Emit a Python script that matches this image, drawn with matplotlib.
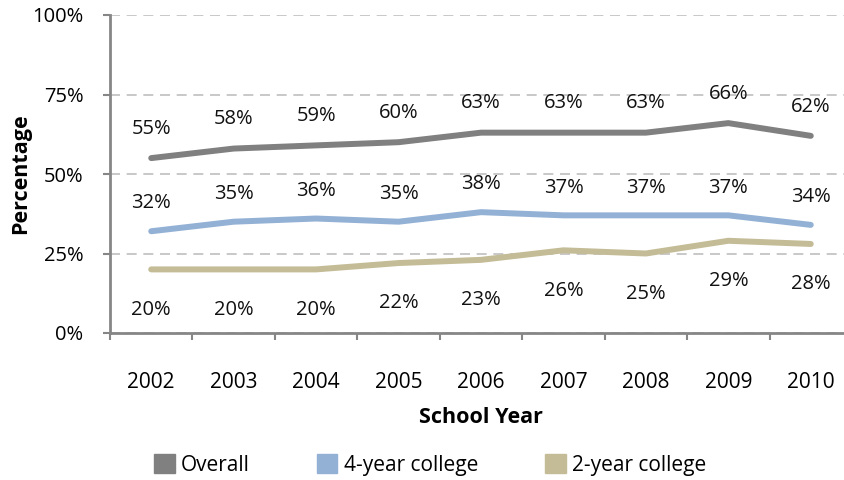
import matplotlib
matplotlib.use("Agg")
import matplotlib.pyplot as plt
from matplotlib.patches import Patch

years = ["2002", "2003", "2004", "2005", "2006", "2007", "2008", "2009", "2010"]
overall = [55, 58, 59, 60, 63, 63, 63, 66, 62]
four_year = [32, 35, 36, 35, 38, 37, 37, 37, 34]
two_year = [20, 20, 20, 22, 23, 26, 25, 29, 28]
yticks = [0, 25, 50, 75, 100]
ytick_labels = ["0%", "25%", "50%", "75%", "100%"]

plt.rcParams['font.family'] = ['Open Sans', 'DejaVu Sans']

W, H = 844, 480
fig = plt.figure(figsize=(W/100, H/100), dpi=100)
ax = fig.add_axes([110/W, 147/H, 742/W, 318/H])

c_over = "#808080"
c_four = "#93B1D5"
c_two = "#C4BC96"

x = list(range(len(years)))
ax.plot(x, overall, color=c_over, lw=4.3, solid_capstyle='round', zorder=3)
ax.plot(x, four_year, color=c_four, lw=4.3, solid_capstyle='round', zorder=3)
ax.plot(x, two_year, color=c_two, lw=4.3, solid_capstyle='round', zorder=3)

fs = 14.5
for xi, v in zip(x, overall):
    ax.annotate(f"{v}%", (xi, v), xytext=(0, 21), textcoords='offset points',
                ha='center', va='center', fontsize=fs, color='#111111')
for xi, v in zip(x, four_year):
    ax.annotate(f"{v}%", (xi, v), xytext=(0, 20), textcoords='offset points',
                ha='center', va='center', fontsize=fs, color='#111111')
for xi, v in zip(x, two_year):
    ax.annotate(f"{v}%", (xi, v), xytext=(0, -29), textcoords='offset points',
                ha='center', va='center', fontsize=fs, color='#111111')

ax.set_xlim(-0.5, len(years) - 0.5)
ax.set_ylim(0, 100)
ax.set_yticks(yticks)
ax.set_yticklabels(ytick_labels, fontsize=fs)
ax.set_xticks(x)
ax.set_xticklabels(years, fontsize=15)
ax.set_xticks([i - 0.5 for i in range(len(years) + 1)], minor=True)

ax.tick_params(axis='x', which='major', length=0, pad=28)
ax.tick_params(axis='x', which='minor', length=5, width=1.5, color='#868686', direction='out')
ax.tick_params(axis='y', which='major', length=5, width=1.5, color='#868686', direction='out', pad=14)

for s in ['top', 'right']:
    ax.spines[s].set_visible(False)
for s in ['left', 'bottom']:
    ax.spines[s].set_color('#868686')
    ax.spines[s].set_linewidth(2)

ax.yaxis.grid(True, color='#BFBFBF', lw=1.2, linestyle=(0, (6, 4)))
ax.set_axisbelow(True)

ax.set_xlabel("School Year", fontsize=15.5, fontweight='bold', labelpad=10)
ax.set_ylabel("Percentage", fontsize=15.5, fontweight='bold', labelpad=1)

handles = [Patch(color=c_over, label="Overall"),
           Patch(color=c_four, label="4-year college"),
           Patch(color=c_two, label="2-year college")]
fig.legend(handles=handles, loc='center', bbox_to_anchor=(430/W, 1 - 465/H),
           ncol=3, frameon=False, fontsize=15, handlelength=1.0, handleheight=1.0,
           handletextpad=0.3, columnspacing=3.2)

fig.savefig("out.png", dpi=100)
